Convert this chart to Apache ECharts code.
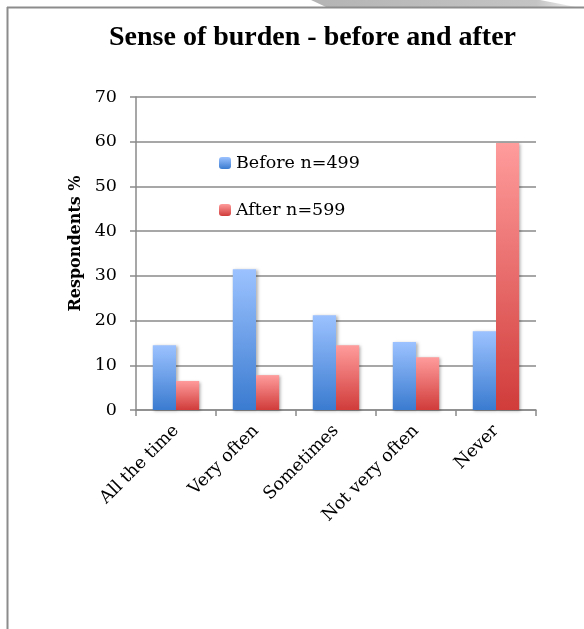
<!DOCTYPE html>
<html>
<head>
<meta charset="utf-8">
<script src="https://cdn.jsdelivr.net/npm/echarts@6/dist/echarts.min.js"></script>
<style>
html,body{margin:0;padding:0;background:#fff;}
#chart{width:584px;height:629px;}
</style>
</head>
<body>
<div id="chart"></div>
<script>
const categories = ['All the time', 'Very often', 'Sometimes', 'Not very often', 'Never'];
const beforeValues = [14.5, 31.5, 21.2, 15.2, 17.6];
const afterValues = [6.5, 7.8, 14.5, 11.8, 59.7];
const seriesNames = ['Before n=499', 'After n=599'];
const yTicks = { min: 0, max: 70, interval: 10 };

const chart = echarts.init(document.getElementById('chart'), null, { renderer: 'canvas' });
const labelFont = 'DejaVu Serif';
const grad = (top, bottom) => new echarts.graphic.LinearGradient(0, 0, 0, 1, [
  { offset: 0, color: top }, { offset: 1, color: bottom }
]);
const gridColor = '#8a8a8a';

chart.setOption({
  backgroundColor: '#ffffff',
  animation: false,
  title: {
    text: 'Sense of burden - before and after',
    left: 104, top: 19,
    textStyle: { fontFamily: 'Liberation Serif', fontWeight: 'bold', fontSize: 28, color: '#000' }
  },
  legend: {
    orient: 'vertical',
    left: 219, top: 154, padding: 0,
    itemWidth: 12, itemHeight: 12, itemGap: 29,
    textStyle: { fontFamily: labelFont, fontSize: 17.5, color: '#000' },
    data: seriesNames
  },
  grid: { left: 136, right: 48, top: 97, bottom: 219, containLabel: false },
  xAxis: {
    type: 'category',
    data: categories,
    axisLine: { lineStyle: { color: gridColor, width: 1.5 } },
    axisTick: { show: true, length: 6, lineStyle: { color: gridColor, width: 1.5 } },
    axisLabel: { rotate: 45, margin: 18, fontFamily: labelFont, fontSize: 17.5, color: '#000', interval: 0 }
  },
  yAxis: {
    type: 'value',
    min: yTicks.min, max: yTicks.max, interval: yTicks.interval,
    name: 'Respondents %',
    nameLocation: 'middle',
    nameGap: 52,
    nameTextStyle: { fontFamily: labelFont, fontWeight: 'bold', fontSize: 16, color: '#000', padding: [0, 0, 0, 20] },
    axisLine: { show: true, lineStyle: { color: gridColor, width: 1.5 } },
    axisTick: { show: true, length: 6, lineStyle: { color: gridColor, width: 1.5 } },
    axisLabel: { margin: 19, fontFamily: labelFont, fontSize: 17.5, color: '#000' },
    splitLine: { lineStyle: { color: gridColor, width: 1.5 } }
  },
  series: [
    {
      name: seriesNames[0], type: 'bar', data: beforeValues,
      barGap: '0%', barCategoryGap: '42%',
      itemStyle: {
        color: grad('#9cc2ff', '#3a7bd0'),
        shadowBlur: 3, shadowColor: 'rgba(0,0,0,0.3)', shadowOffsetX: 1.5, shadowOffsetY: 1
      }
    },
    {
      name: seriesNames[1], type: 'bar', data: afterValues,
      barGap: '0%', barCategoryGap: '42%',
      itemStyle: {
        color: grad('#ff9c9c', '#d03c3a'),
        shadowBlur: 3, shadowColor: 'rgba(0,0,0,0.3)', shadowOffsetX: 1.5, shadowOffsetY: 1
      }
    }
  ],
  graphic: [
    {
      type: 'polygon', silent: true,
      shape: { points: [[311, 0], [540, 0], [576, 7], [326, 7]] },
      style: { fill: new echarts.graphic.LinearGradient(0, 0, 1, 0, [
        { offset: 0, color: '#b4b4b4' }, { offset: 0.85, color: '#c4c4c4' }, { offset: 1, color: '#f0f0f0' }
      ]) }
    },
    { type: 'line', silent: true, shape: { x1: 7, y1: 7.5, x2: 584, y2: 7.5 }, style: { stroke: '#8c8c8c', lineWidth: 2 } },
    { type: 'line', silent: true, shape: { x1: 7.5, y1: 7, x2: 7.5, y2: 629 }, style: { stroke: '#8c8c8c', lineWidth: 2 } }
  ]
});
</script>
</body>
</html>
